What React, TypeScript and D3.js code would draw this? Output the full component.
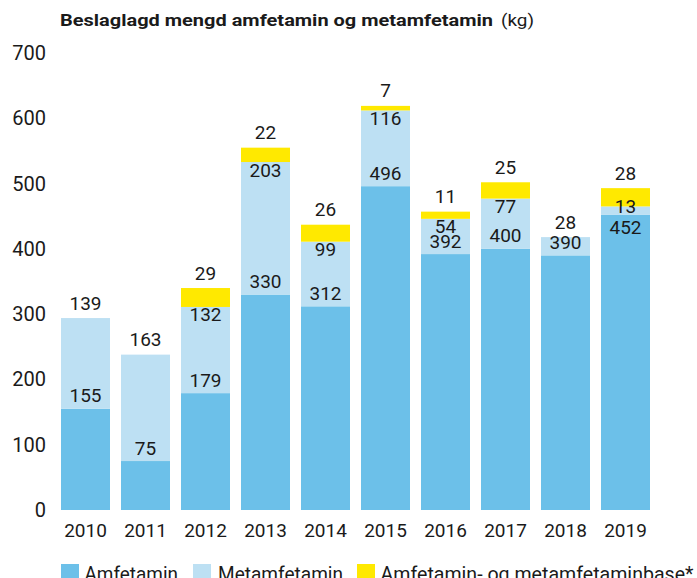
import React from "react";
import * as d3 from "d3";

const years = ["2010", "2011", "2012", "2013", "2014", "2015", "2016", "2017", "2018", "2019"];
const amfetamin = [155, 75, 179, 330, 312, 496, 392, 400, 390, 452];
const metamfetamin = [139, 163, 132, 203, 99, 116, 54, 77, 28, 13];
const base = [0, 0, 29, 22, 26, 7, 11, 25, 0, 28];
const yTicks = [0, 100, 200, 300, 400, 500, 600, 700];
const seriesNames = ["Amfetamin", "Metamfetamin", "Amfetamin- og metamfetaminbase*"];

const COLORS = ["#6CC0E9", "#BDE0F3", "#FFE900"];
const FONT = "Roboto, 'Noto Sans', sans-serif";
const TXT = "#1a1a1a";

export default function App() {
  const W = 697, H = 578;
  const x = d3.scaleBand<string>().domain(years).range([55.5, 655.5]).paddingInner(11 / 60).paddingOuter(11 / 120);
  const y = d3.scaleLinear().domain([0, 700]).range([510, 53]);

  const rows = years.map((yr, i) => ({ yr, a: amfetamin[i], m: metamfetamin[i], b: base[i] }));
  const stack = d3.stack<any>().keys(["a", "m", "b"])(rows as any);

  const labels: { x: number; y: number; t: string }[] = [];
  rows.forEach((r) => {
    const cx = (x(r.yr) as number) + x.bandwidth() / 2;
    const aTop = y(r.a);
    const mTop = y(r.a + r.m);
    const bTop = y(r.a + r.m + r.b);
    labels.push({ x: cx, y: r.m < 20 ? aTop + 13 : aTop - 13, t: String(r.a) });
    let my = mTop - 15;
    if (r.b > 0) my = r.m < 20 ? mTop : mTop + 8;
    labels.push({ x: cx, y: my, t: String(r.m) });
    if (r.b > 0) labels.push({ x: cx, y: bTop - 15, t: String(r.b) });
  });

  const legend = [
    { sx: 61, tx: 84.5, tw: 93.5 },
    { sx: 193, tx: 218, tw: 125 },
    { sx: 357, tx: 380.5, tw: 313 },
  ];

  return (
    <svg width={W} height={H} style={{ position: "absolute", left: 0, top: 0 }} fontFamily={FONT}>
      <rect width={W} height={H} fill="#fff" />
      <text x={60} y={26} fontSize={17} fontWeight={700} fill={TXT} textLength={433} lengthAdjust="spacingAndGlyphs">
        Beslaglagd mengd amfetamin og metamfetamin
      </text>
      <text x={501} y={26} fontSize={17} fill={TXT} textLength={33} lengthAdjust="spacingAndGlyphs">
        (kg)
      </text>
      {yTicks.map((t) => (
        <text key={t} x={46} y={y(t)} textAnchor="end" dominantBaseline="central" fontSize={20} fill={TXT}>
          {t}
        </text>
      ))}
      {stack.map((s, si) => (
        <g key={si} fill={COLORS[si]}>
          {s.map((d: any, i: number) =>
            d[1] - d[0] > 0 ? (
              <rect key={i} x={x(years[i])} width={x.bandwidth()} y={y(d[1])} height={y(d[0]) - y(d[1])} />
            ) : null
          )}
        </g>
      ))}
      {labels.map((l, i) => (
        <text key={i} x={l.x} y={l.y} textAnchor="middle" dominantBaseline="central" fontSize={19} fill={TXT}>
          {l.t}
        </text>
      ))}
      {years.map((yr) => (
        <text key={yr} x={(x(yr) as number) + x.bandwidth() / 2} y={530} textAnchor="middle" dominantBaseline="central" fontSize={19} fill={TXT}>
          {yr}
        </text>
      ))}
      {legend.map((l, i) => (
        <g key={i}>
          <rect x={l.sx} y={564} width={18} height={18} fill={COLORS[i]} />
          <text x={l.tx} y={581} fontSize={20} fill={TXT} textLength={l.tw} lengthAdjust="spacingAndGlyphs">
            {seriesNames[i]}
          </text>
        </g>
      ))}
    </svg>
  );
}
